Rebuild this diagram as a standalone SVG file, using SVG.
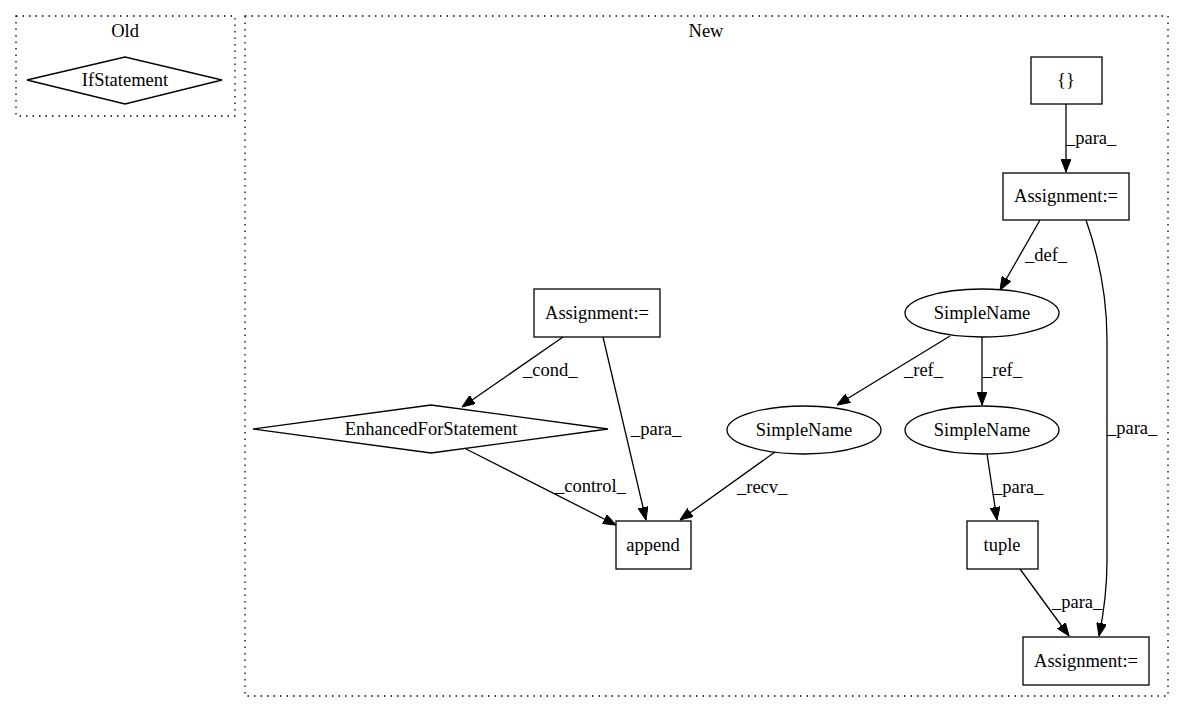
<svg xmlns="http://www.w3.org/2000/svg" width="1184" height="712" viewBox="0 0 1184 712">
<defs>
<marker id="arr" markerWidth="13" markerHeight="10" refX="13" refY="5" orient="auto" markerUnits="userSpaceOnUse">
<polygon points="0,0 13,5 0,10" fill="#000" stroke="#000"/>
</marker>
<style>
text{font-family:"Liberation Serif","Times New Roman",serif;font-size:18.5px;fill:#000}
.n{fill:#fff;stroke:#000;stroke-width:1.3}
.c{fill:none;stroke:#000;stroke-width:1.3;stroke-dasharray:1.5,5}
.e{fill:none;stroke:#000;stroke-width:1.3;marker-end:url(#arr)}
.m{text-anchor:middle}
</style>
</defs>
<rect width="1184" height="712" fill="#fff"/>
<g id="cluster_old">
<rect class="c" x="16" y="16" width="219" height="100"/>
<text class="m" x="125" y="37">Old</text>
</g>
<g id="cluster_new">
<rect class="c" x="245" y="16" width="923" height="680"/>
<text class="m" x="706" y="37">New</text>
</g>
<g id="ifstatement">
<polygon class="n" points="27,80 125,57 222,80 125,104"/>
<text class="m" x="125" y="86">IfStatement</text>
</g>
<g id="braces">
<rect class="n" x="1031" y="57" width="71" height="47"/>
<text class="m" x="1066" y="86">{}</text>
</g>
<g id="assign_top">
<rect class="n" x="1003" y="173" width="126" height="47"/>
<text class="m" x="1066" y="202">Assignment:=</text>
</g>
<g id="simplename_top">
<ellipse class="n" cx="982" cy="313" rx="77" ry="24"/>
<text class="m" x="982" y="319">SimpleName</text>
</g>
<g id="simplename_left">
<ellipse class="n" cx="804" cy="430" rx="77" ry="24"/>
<text class="m" x="804" y="436">SimpleName</text>
</g>
<g id="simplename_right">
<ellipse class="n" cx="982" cy="430" rx="77" ry="24"/>
<text class="m" x="982" y="436">SimpleName</text>
</g>
<g id="tuple">
<rect class="n" x="967" y="521" width="71" height="48"/>
<text class="m" x="1002" y="551">tuple</text>
</g>
<g id="assign_bottom">
<rect class="n" x="1023" y="637" width="126" height="48"/>
<text class="m" x="1086" y="667">Assignment:=</text>
</g>
<g id="assign_left">
<rect class="n" x="534" y="289" width="126" height="48"/>
<text class="m" x="597" y="319">Assignment:=</text>
</g>
<g id="enhancedfor">
<polygon class="n" points="253,429 431,405 608,429 431,453"/>
<text class="m" x="431" y="435">EnhancedForStatement</text>
</g>
<g id="append">
<rect class="n" x="616" y="521" width="75" height="48"/>
<text class="m" x="653" y="551">append</text>
</g>
<g id="connectors">
<path class="e" d="M1066,104 L1066,172"/>
<text x="1066" y="144">_para_</text>
<path class="e" d="M1040,220 L1000,290"/>
<text x="1025" y="261">_def_</text>
<path class="e" d="M1086,220 C1100,260 1107,300 1107,340 L1107,560 C1107,590 1104,612 1099,636"/>
<text x="1107" y="434">_para_</text>
<path class="e" d="M950,336 L837,405"/>
<text x="904" y="376">_ref_</text>
<path class="e" d="M982,337 L982,405"/>
<text x="983" y="376">_ref_</text>
<path class="e" d="M775,452 L680,520"/>
<text x="737" y="493">_recv_</text>
<path class="e" d="M987,454 L997,520"/>
<text x="993" y="493">_para_</text>
<path class="e" d="M1020,569 L1069,636"/>
<text x="1052" y="608">_para_</text>
<path class="e" d="M563,337 L462,407"/>
<text x="523" y="376">_cond_</text>
<path class="e" d="M603,337 L646,520"/>
<text x="631" y="435">_para_</text>
<path class="e" d="M466,449 L616,525"/>
<text x="555" y="492">_control_</text>
</g>
</svg>
